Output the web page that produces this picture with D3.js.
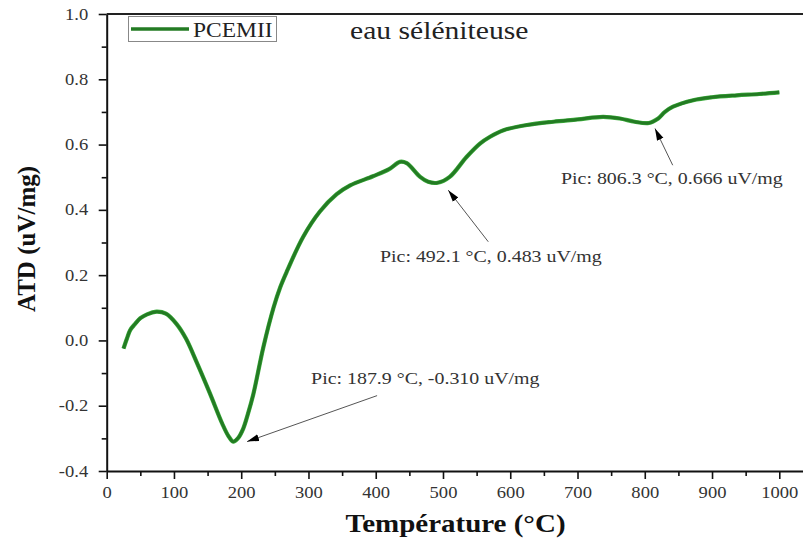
<!DOCTYPE html>
<html>
<head>
<meta charset="utf-8">
<script src="https://cdn.jsdelivr.net/npm/d3@7"></script>
<style>
body { margin: 0; background: #fff; }
svg { display: block; font-family: "Liberation Serif", "Times New Roman", serif; }
</style>
</head>
<body>
<svg width="803" height="546"></svg>
<script>
//  Data (temperature in °C, signal in uV/mg)
const temps = [25, 30, 35, 42, 50, 60, 74, 88, 104, 118, 134, 153, 172, 181, 188, 195, 203, 210, 218, 233, 248, 258,
    268, 292, 317, 342, 362, 396, 420, 436, 446, 466, 478, 492, 510, 535, 555, 570, 590, 625, 664, 700,
    738, 763, 785, 806, 820, 830, 842, 872, 900, 937, 970, 1000];
const atd = [-0.025, 0.005, 0.032, 0.050, 0.068, 0.080, 0.088, 0.082, 0.050, 0.005, -0.068, -0.160, -0.256, -0.293, -0.310, -0.300, -0.270, -0.225, -0.165, -0.020, 0.100, 0.163,
    0.212, 0.317, 0.395, 0.448, 0.475, 0.503, 0.525, 0.547, 0.543, 0.501, 0.486, 0.483, 0.501, 0.562, 0.603, 0.624, 0.644, 0.660, 0.670, 0.677,
    0.685, 0.680, 0.670, 0.666, 0.680, 0.700, 0.716, 0.736, 0.745, 0.751, 0.755, 0.760];

const xTicks = [0, 100, 200, 300, 400, 500, 600, 700, 800, 900, 1000];
const xTickLabels = ['0', '100', '200', '300', '400', '500', '600', '700', '800', '900', '1000'];
const xMinorTicks = [50, 150, 250, 350, 450, 550, 650, 750, 850, 950];
const yTicks = [-0.4, -0.2, 0.0, 0.2, 0.4, 0.6, 0.8, 1.0];
const yTickLabels = ['-0.4', '-0.2', '0.0', '0.2', '0.4', '0.6', '0.8', '1.0'];
const yMinorTicks = [-0.3, -0.1, 0.1, 0.3, 0.5, 0.7, 0.9];

const peakTemps = [187.9, 492.1, 806.3];
const peakValues = [-0.310, 0.483, 0.666];

const seriesName = 'PCEMII';
const subtitle = 'eau séléniteuse';
const xTitle = 'Température (°C)';
const yTitle = 'ATD (uV/mg)';

const svg = d3.select('svg');
const green = '#237b23';
const textGray = '#333';

//  Scales
const x = d3.scaleLinear().domain([0, 1036]).range([106.7, 803.5]);
const y = d3.scaleLinear().domain([-0.4, 1.0]).range([471, 14]);

//  helper: the reference text is a bit wide, stretch horizontally
function stretched(parent, px, py, sx) {
    return parent.append('g').attr('transform', `translate(${px},${py}) scale(${sx},1)`);
}

//============ AXES =========================
svg.append('g').attr('transform', `translate(0,${y(-0.4)})`)
    .call(d3.axisBottom(x).tickValues(xTicks).tickFormat((d, i) => xTickLabels[i])
        .tickSize(8).tickPadding(8).tickSizeOuter(0));
svg.append('g').attr('transform', `translate(0,${y(-0.4)})`)
    .call(d3.axisBottom(x).tickValues(xMinorTicks).tickSize(5).tickFormat('').tickSizeOuter(0))
    .select('.domain').remove();

svg.append('g').attr('transform', `translate(${x(0)},0)`)
    .call(d3.axisLeft(y).tickValues(yTicks).tickFormat((d, i) => yTickLabels[i])
        .tickSize(8).tickPadding(8).tickSizeOuter(0));
svg.append('g').attr('transform', `translate(${x(0)},0)`)
    .call(d3.axisLeft(y).tickValues(yMinorTicks).tickSize(5).tickFormat('').tickSizeOuter(0))
    .select('.domain').remove();

svg.selectAll('.domain').attr('stroke', '#111').attr('stroke-width', 2);
svg.selectAll('.tick line').attr('stroke', '#111').attr('stroke-width', 1.6);
svg.selectAll('.tick text')
    .attr('font-family', '"Liberation Serif", "Times New Roman", serif')
    .attr('font-size', 16)
    .attr('fill', textGray)
    .attr('transform', 'scale(1.16,1)');

//  top frame line
svg.append('line')
    .attr('x1', x(0)).attr('x2', x(1036))
    .attr('y1', y(1.0)).attr('y2', y(1.0))
    .attr('stroke', '#222').attr('stroke-width', 2);

//============ CURVE =========================
const line = d3.line()
    .x((d, i) => x(temps[i]))
    .y(d => y(d))
    .curve(d3.curveCatmullRom.alpha(0.5));

svg.append('path')
    .attr('d', line(atd))
    .attr('fill', 'none')
    .attr('stroke', '#3fae3f')
    .attr('stroke-width', 4.2)
    .attr('stroke-linejoin', 'round');
svg.append('path')
    .attr('d', line(atd))
    .attr('fill', 'none')
    .attr('stroke', green)
    .attr('stroke-width', 3)
    .attr('stroke-linejoin', 'round');

//============ PEAK ANNOTATIONS =========================
svg.append('defs').append('marker')
    .attr('id', 'arrow')
    .attr('markerUnits', 'userSpaceOnUse')
    .attr('viewBox', '0 -4 12 8')
    .attr('refX', 12).attr('refY', 0)
    .attr('markerWidth', 12).attr('markerHeight', 8)
    .attr('orient', 'auto')
    .append('path')
    .attr('d', 'M0,-3.5L12,0L0,3.5Z')
    .attr('fill', '#000');

//  offsets (px) of arrow tip, arrow tail and text start from each peak
const annOffsets = [
    { tip: [14, 0], tail: [144, -46], text: [78, -58] },
    { tip: [10.6, 7.4], tail: [50.6, 59], text: [-57.7, 79.4] },
    { tip: [6, 5.5], tail: [23.7, 42.2], text: [-88, 61] }
];

peakTemps.forEach((t, i) => {
    const px = x(t), py = y(peakValues[i]);
    const o = annOffsets[i];
    svg.append('line')
        .attr('x1', px + o.tail[0]).attr('y1', py + o.tail[1])
        .attr('x2', px + o.tip[0]).attr('y2', py + o.tip[1])
        .attr('stroke', '#555').attr('stroke-width', 1)
        .attr('marker-end', 'url(#arrow)');
    stretched(svg, px + o.text[0], py + o.text[1], 1.17)
        .append('text')
        .attr('font-size', 17)
        .attr('fill', textGray)
        .text(`Pic: ${t.toFixed(1)} °C, ${peakValues[i].toFixed(3)} uV/mg`);
});

//============ LEGEND & SUBTITLE =========================
const legend = svg.append('g');
legend.append('rect')
    .attr('x', 128.5).attr('y', 16.5)
    .attr('width', 148).attr('height', 25)
    .attr('fill', '#fff')
    .attr('stroke', '#888').attr('stroke-width', 1);
legend.append('line')
    .attr('x1', 131).attr('x2', 189)
    .attr('y1', 29).attr('y2', 29)
    .attr('stroke', green).attr('stroke-width', 3.5);
stretched(legend, 193, 36.5, 1.12)
    .append('text')
    .attr('font-size', 21)
    .attr('fill', '#222')
    .text(seriesName);

stretched(svg, 350, 39, 1.14)
    .append('text')
    .attr('font-size', 26)
    .attr('fill', '#222')
    .text(subtitle);

//============ AXIS TITLES =========================
stretched(svg, 455.5, 532, 1.16)
    .append('text')
    .attr('text-anchor', 'middle')
    .attr('font-size', 25)
    .attr('font-weight', 'bold')
    .attr('fill', '#111')
    .text(xTitle);

svg.append('text')
    .attr('transform', 'translate(35,239) rotate(-90)')
    .attr('text-anchor', 'middle')
    .attr('font-size', 25)
    .attr('font-weight', 'bold')
    .attr('fill', '#111')
    .text(yTitle);
</script>
</body>
</html>
